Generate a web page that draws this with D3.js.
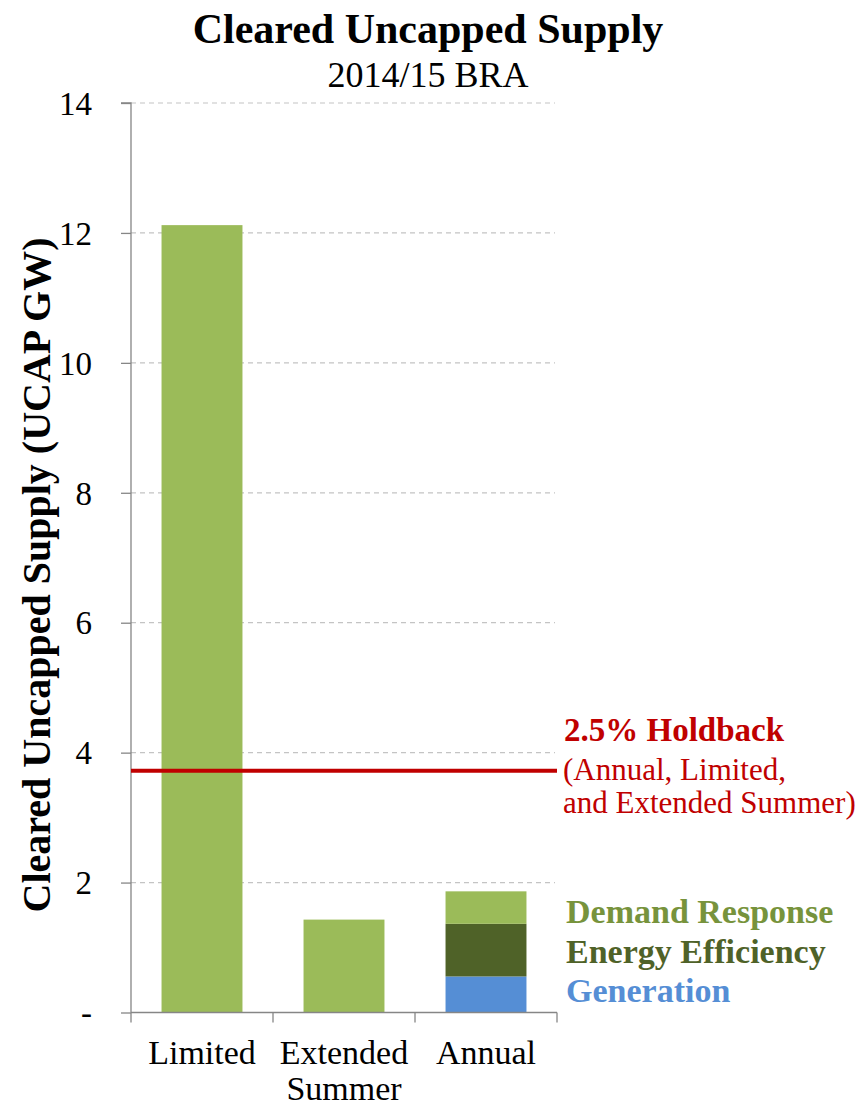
<!DOCTYPE html>
<html><head><meta charset="utf-8">
<script src="https://cdn.jsdelivr.net/npm/d3@7"></script>
<style>body{margin:0;background:#fff;}</style>
</head><body><svg id="c" width="868" height="1105"></svg>
<script>
const categories = ["Limited", "Extended Summer", "Annual"];
const demandResponse = [12.12, 1.43, 0.50];
const energyEfficiency = [0, 0, 0.81];
const generation = [0, 0, 0.555];
const yTicks = [0, 2, 4, 6, 8, 10, 12, 14];
const holdback = 3.72;
const seriesNames = ["Generation", "Energy Efficiency", "Demand Response"];
const seriesColors = ["#558ed5", "#4f6228", "#9bbb59"];
const legendOrder = ["Demand Response", "Energy Efficiency", "Generation"];
const legendColors = ["#77933c", "#4f6228", "#558ed5"];

const FONT = '"Liberation Serif", "Times New Roman", Tinos, serif';
const svg = d3.select("#c");
const m = {left: 131, right: 557, top: 103, bottom: 1012.5};
const x = d3.scaleBand().domain(categories).range([m.left, m.right]).paddingInner(0.43).paddingOuter(0.215);
const y = d3.scaleLinear().domain([0, 14]).range([m.bottom, m.top]);

// gridlines
svg.append("g").selectAll("line").data(yTicks.filter(d => d > 0)).join("line")
  .attr("x1", m.left).attr("x2", m.right - 2).attr("y1", d => y(d)).attr("y2", d => y(d))
  .attr("stroke", "#c4c4c4").attr("stroke-width", 1.2).attr("stroke-dasharray", "5,4");

// stacked bars
const rows = categories.map((c, i) => ({cat: c, "Generation": generation[i], "Energy Efficiency": energyEfficiency[i], "Demand Response": demandResponse[i]}));
const stack = d3.stack().keys(seriesNames)(rows);
svg.append("g").selectAll("g").data(stack).join("g")
  .attr("fill", (d, i) => seriesColors[i])
  .selectAll("rect").data(d => d.filter(p => p[1] > p[0])).join("rect")
  .attr("x", d => x(d.data.cat)).attr("width", x.bandwidth())
  .attr("y", d => y(d[1])).attr("height", d => y(d[0]) - y(d[1]));

// y axis
const yAxis = d3.axisLeft(y).tickValues(yTicks).tickSize(10).tickPadding(29)
  .tickFormat(d => d === 0 ? "-" : d);
const ya = svg.append("g").attr("transform", `translate(${m.left},0)`).call(yAxis);
ya.select(".domain").attr("stroke", "#868686").attr("stroke-width", 1.3).attr("d", `M-10,${m.top}H0V${m.bottom}`);
ya.selectAll(".tick line").attr("stroke", "#868686").attr("stroke-width", 1.3);
ya.selectAll(".tick text").attr("font-size", 33).attr("fill", "#000").attr("dy", "0.34em")
  .style("font-family", FONT);

// x axis
const xa = svg.append("g").attr("transform", `translate(0,${m.bottom})`);
xa.append("line").attr("x1", m.left).attr("x2", m.right).attr("y1", 0).attr("y2", 0)
  .attr("stroke", "#868686").attr("stroke-width", 1.3);
const bounds = d3.range(categories.length + 1).map(i => m.left + i * x.step());
xa.selectAll("line.tk").data(bounds).join("line").attr("class", "tk")
  .attr("x1", d => d).attr("x2", d => d).attr("y1", 0).attr("y2", 10)
  .attr("stroke", "#868686").attr("stroke-width", 1.3);
xa.selectAll("text").data(categories).join("text")
  .attr("x", d => x(d) + x.bandwidth() / 2).attr("y", 51)
  .attr("text-anchor", "middle").attr("font-size", 34).attr("fill", "#000")
  .style("font-family", FONT)
  .each(function(d) {
    d3.select(this).selectAll("tspan").data(d.split(" ")).join("tspan")
      .attr("x", x(d) + x.bandwidth() / 2).attr("dy", (w, i) => i === 0 ? 0 : 36).text(w => w);
  });

// holdback line
svg.append("line").attr("x1", m.left).attr("x2", m.right)
  .attr("y1", y(holdback)).attr("y2", y(holdback))
  .attr("stroke", "#c00000").attr("stroke-width", 4);

// titles
svg.append("text").attr("x", 428).attr("y", 43).attr("text-anchor", "middle")
  .attr("font-size", 42).attr("font-weight", "bold").style("font-family", FONT)
  .text("Cleared Uncapped Supply");
svg.append("text").attr("x", 428).attr("y", 87).attr("text-anchor", "middle")
  .attr("font-size", 36).style("font-family", FONT).text("2014/15 BRA");
svg.append("text").attr("transform", `translate(50,575) rotate(-90)`).attr("text-anchor", "middle")
  .attr("font-size", 40).attr("font-weight", "bold").style("font-family", FONT)
  .text("Cleared Uncapped Supply (UCAP GW)");

// holdback annotation
svg.append("text").attr("x", 564).attr("y", 741).attr("font-size", 33).attr("font-weight", "bold")
  .attr("fill", "#c00000").style("font-family", FONT).text("2.5% Holdback");
svg.append("text").attr("x", 563).attr("y", 780).attr("font-size", 31)
  .attr("fill", "#c00000").style("font-family", FONT).text("(Annual, Limited,");
svg.append("text").attr("x", 563).attr("y", 813).attr("font-size", 31)
  .attr("fill", "#c00000").style("font-family", FONT).text("and Extended Summer)");

// legend
svg.append("g").selectAll("text").data(legendOrder).join("text")
  .attr("x", 566).attr("y", (d, i) => 923 + i * 39.5)
  .attr("font-size", 34).attr("font-weight", "bold").attr("fill", (d, i) => legendColors[i])
  .style("font-family", FONT).text(d => d);
</script></body></html>
